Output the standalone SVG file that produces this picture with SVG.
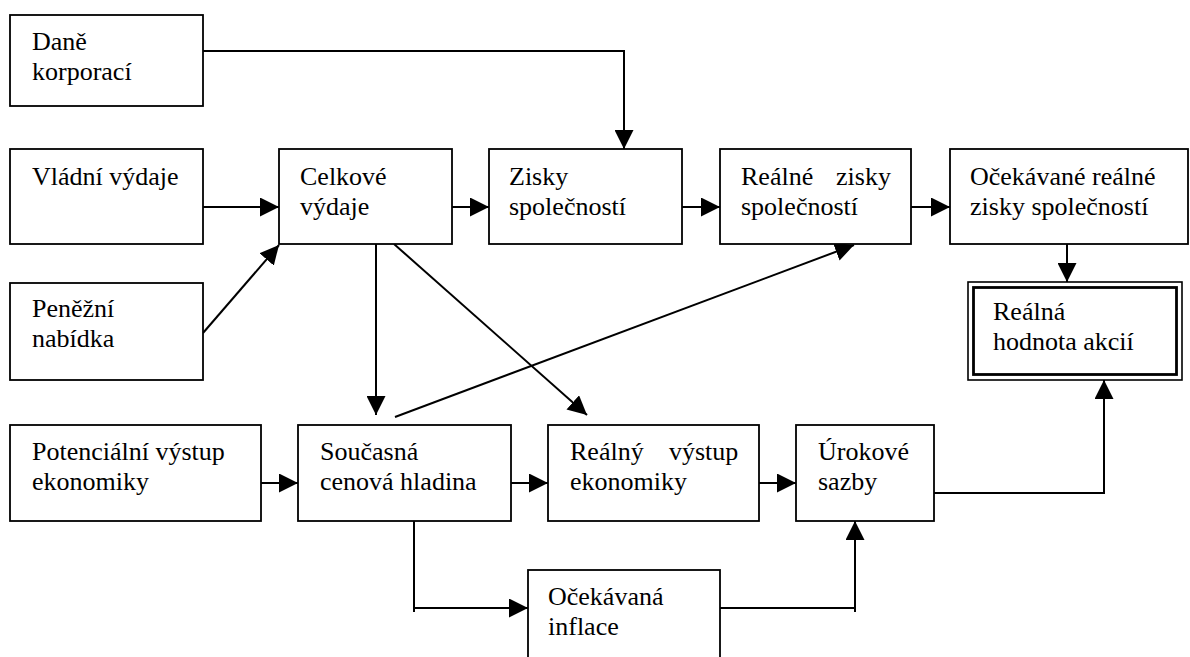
<svg xmlns="http://www.w3.org/2000/svg" width="1190" height="657" viewBox="0 0 1190 657">
<defs>
<marker id="ah" markerUnits="userSpaceOnUse" markerWidth="20" markerHeight="19" refX="19" refY="9.5" orient="auto">
<path d="M0,0 L19,9.5 L0,19 z" fill="#000"/>
</marker>
<style>
.box{fill:#fff;stroke:#000;stroke-width:1.8}
.c{fill:none;stroke:#000;stroke-width:2;marker-end:url(#ah)}
text{font-family:"Times New Roman","Liberation Serif","DejaVu Serif",serif;font-size:26px;fill:#000}
</style>
</defs>
<rect width="1190" height="657" fill="#fff"/>
<g id="connectors">
<path class="c" d="M203,51 H624 V149"/>
<path class="c" d="M203,207 H279"/>
<path class="c" d="M203,333 L279,245"/>
<path class="c" d="M452,207 H489"/>
<path class="c" d="M682,207 H720"/>
<path class="c" d="M911,207 H950"/>
<path class="c" d="M1067,244 V282"/>
<path class="c" d="M376,244 V415"/>
<path class="c" d="M394,244 L587,415"/>
<path class="c" d="M395,417 L854,245"/>
<path class="c" d="M261,483 H298"/>
<path class="c" d="M511,483 H548"/>
<path class="c" d="M759,483 H796"/>
<path class="c" d="M934,493 H1104 V380"/>
<path class="c" d="M414,521 V612 M414,608 H528"/>
<path class="c" d="M720,608 H855 M855,612 V521"/>
</g>
<g id="dane"><rect class="box" x="10" y="15" width="193" height="91"/><text x="32" y="50">Daně</text><text x="32" y="80">korporací</text></g>
<g id="vladni"><rect class="box" x="10" y="149" width="193" height="95"/><text x="32" y="185">Vládní výdaje</text></g>
<g id="penezni"><rect class="box" x="10" y="283" width="193" height="97"/><text x="32" y="317">Peněžní</text><text x="32" y="347">nabídka</text></g>
<g id="celkove"><rect class="box" x="279" y="149" width="173" height="95"/><text x="300" y="185">Celkové</text><text x="300" y="215">výdaje</text></g>
<g id="zisky"><rect class="box" x="489" y="149" width="193" height="95"/><text x="509" y="185">Zisky</text><text x="509" y="215">společností</text></g>
<g id="realne-zisky"><rect class="box" x="720" y="149" width="191" height="95"/><text x="741" y="185">Reálné</text><text x="836" y="185">zisky</text><text x="741" y="215">společností</text></g>
<g id="ocekavane"><rect class="box" x="950" y="149" width="238" height="95"/><text x="970" y="185">Očekávané reálné</text><text x="970" y="215">zisky společností</text></g>
<g id="realna-hodnota"><rect x="968" y="282" width="214" height="98" fill="#fff" stroke="#000" stroke-width="1.6"/><rect x="973.5" y="287.5" width="203" height="87" fill="none" stroke="#000" stroke-width="2.8"/><text x="993" y="320">Reálná</text><text x="993" y="350">hodnota akcií</text></g>
<g id="potencialni"><rect class="box" x="10" y="425" width="251" height="96"/><text x="32" y="460">Potenciální výstup</text><text x="32" y="490">ekonomiky</text></g>
<g id="soucasna"><rect class="box" x="298" y="425" width="213" height="96"/><text x="320" y="460">Současná</text><text x="320" y="490">cenová hladina</text></g>
<g id="realny-vystup"><rect class="box" x="548" y="425" width="211" height="96"/><text x="570" y="460">Reálný</text><text x="669" y="460">výstup</text><text x="570" y="490">ekonomiky</text></g>
<g id="urokove"><rect class="box" x="796" y="425" width="138" height="96"/><text x="818" y="460">Úrokové</text><text x="818" y="490">sazby</text></g>
<g id="ocekavana-inflace"><rect class="box" x="528" y="570" width="192" height="110"/><text x="548" y="605">Očekávaná</text><text x="548" y="635">inflace</text></g>
</svg>
